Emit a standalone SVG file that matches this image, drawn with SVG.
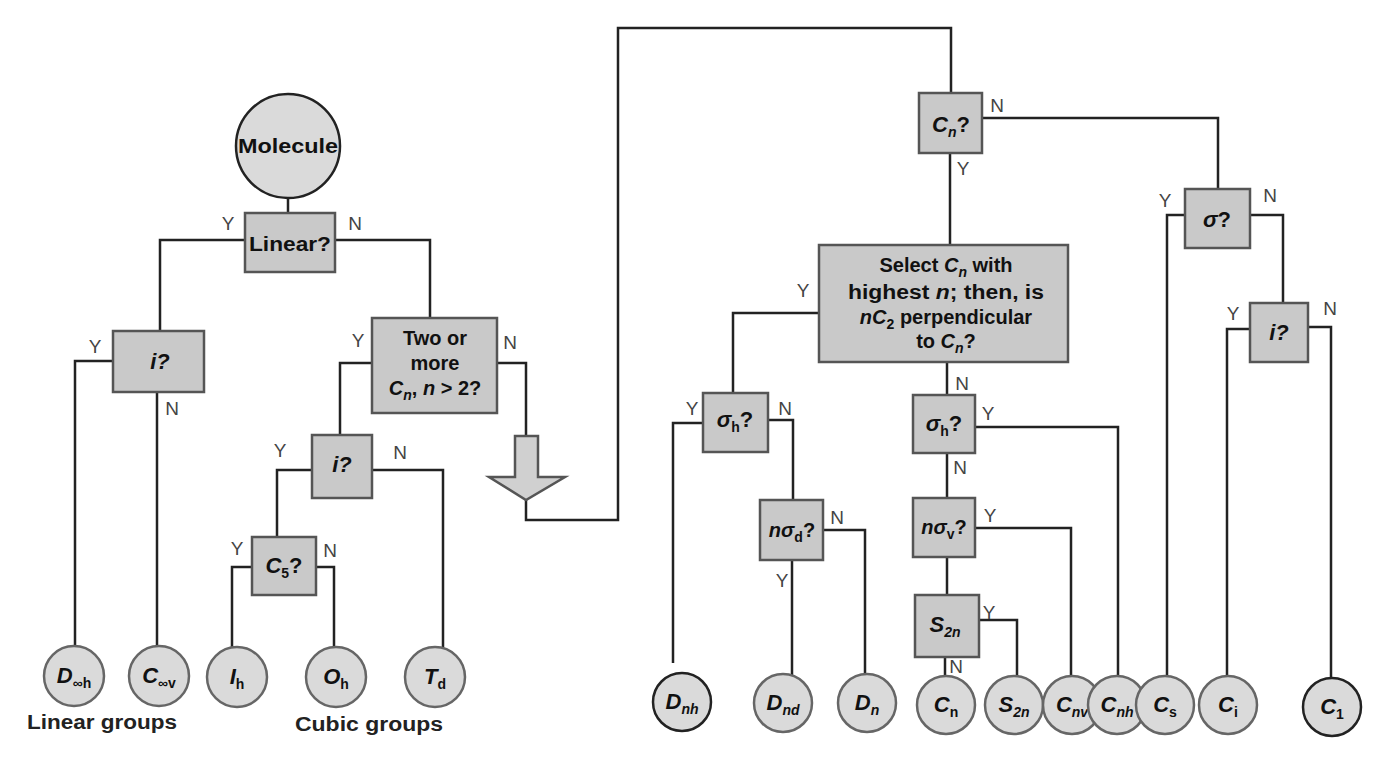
<svg xmlns="http://www.w3.org/2000/svg" width="1382" height="760" viewBox="0 0 1382 760">
<style>
.box{fill:#c9c9c9;stroke:#555;stroke-width:2.5}
.circ{fill:#dadada;stroke:#666;stroke-width:2.5}
.dk{stroke:#222}
.ln{fill:none;stroke:#222;stroke-width:2.5;stroke-linejoin:miter}
.t{font-family:"Liberation Sans",Arial,sans-serif;font-weight:bold;font-size:20px;fill:#111;text-anchor:middle}
.c{font-size:22px}
.it{font-style:italic}
.sub{font-size:14px}
.yn{font-family:"Liberation Sans",Arial,sans-serif;font-size:19px;fill:#444;text-anchor:middle}
.cap{font-family:"Liberation Sans",Arial,sans-serif;font-weight:bold;font-size:20px;fill:#222;text-anchor:middle}
</style>
<rect width="1382" height="760" fill="#fff"/>
<g id="connectors" class="ln">
<path d="M288,198 V213"/>
<path d="M245,240 H160 V331"/>
<path d="M335,240 H430 V318"/>
<path d="M113,361 H75 V648"/>
<path d="M157,392 V648"/>
<path d="M372,363 H340 V435"/>
<path d="M497,363 H526 V436"/>
<path d="M526,500 V520 H618 V28 H951 V93"/>
<path d="M312,470 H277 V537"/>
<path d="M372,470 H443 V650"/>
<path d="M252,567 H232 V650"/>
<path d="M316,567 H334 V650"/>
<path d="M950,153 V245"/>
<path d="M982,118 H1218 V189"/>
<path d="M819,313 H733 V393"/>
<path d="M947,362 V395"/>
<path d="M703,423 H673 V663"/>
<path d="M768,420 H793 V500"/>
<path d="M792,560 V678"/>
<path d="M823,530 H865 V678"/>
<path d="M947,453 V498"/>
<path d="M975,427 H1118 V678"/>
<path d="M947,557 V595"/>
<path d="M975,528 H1071 V678"/>
<path d="M979,620 H1017 V678"/>
<path d="M945,657 V678"/>
<path d="M1185,215 H1167 V678"/>
<path d="M1250,215 H1283 V303"/>
<path d="M1250,329 H1227 V678"/>
<path d="M1308,327 H1331 V680"/>
</g>
<g id="yn-labels">
<text class="yn" x="228" y="230">Y</text><text class="yn" x="355" y="230">N</text>
<text class="yn" x="95" y="353">Y</text><text class="yn" x="172" y="415">N</text>
<text class="yn" x="358" y="347">Y</text><text class="yn" x="510" y="349">N</text>
<text class="yn" x="280" y="457">Y</text><text class="yn" x="400" y="459">N</text>
<text class="yn" x="237" y="555" font-size="16">Y</text><text class="yn" x="330" y="557">N</text>
<text class="yn" x="997" y="112">N</text><text class="yn" x="963" y="175">Y</text>
<text class="yn" x="803" y="297">Y</text><text class="yn" x="962" y="390">N</text>
<text class="yn" x="692" y="415">Y</text><text class="yn" x="785" y="415">N</text>
<text class="yn" x="837" y="524">N</text><text class="yn" x="782" y="587">Y</text>
<text class="yn" x="988" y="420">Y</text><text class="yn" x="960" y="474">N</text>
<text class="yn" x="990" y="522">Y</text>
<text class="yn" x="989" y="619">Y</text><text class="yn" x="956" y="673">N</text>
<text class="yn" x="1165" y="207">Y</text><text class="yn" x="1270" y="202">N</text>
<text class="yn" x="1233" y="320">Y</text><text class="yn" x="1330" y="315">N</text>
</g>
<g id="molecule"><circle class="circ dk" cx="288" cy="146" r="52"/><text class="t" x="288" y="153" font-size="21" textLength="100" lengthAdjust="spacingAndGlyphs">Molecule</text></g>
<g id="linear"><rect class="box" x="245" y="213" width="90" height="59"/><text class="t" x="290" y="251" textLength="82" lengthAdjust="spacingAndGlyphs">Linear?</text></g>
<g id="i-linear"><rect class="box" x="113" y="331" width="91" height="61"/><text class="t it c" x="160" y="369">i?</text></g>
<g id="two-or-more"><rect class="box" x="372" y="318" width="125" height="95"/>
<text class="t" x="435" y="345" font-size="21">Two or</text><text class="t" x="435" y="370" font-size="21">more</text>
<text class="t" x="435" y="395" font-size="22"><tspan class="it">C</tspan><tspan class="it sub" dy="5">n</tspan><tspan dy="-5">, </tspan><tspan class="it">n</tspan> &gt; 2?</text></g>
<g id="arrow"><path d="M515,436 H538 V477 H565 L526,500 L489,477 H515 Z" fill="#d0d0d0" stroke="#555" stroke-width="2.5" stroke-linejoin="miter"/></g>
<g id="i-cubic"><rect class="box" x="312" y="435" width="60" height="63"/><text class="t it c" x="342" y="472">i?</text></g>
<g id="c5"><rect class="box" x="252" y="537" width="64" height="58"/><text class="t c" x="284" y="573"><tspan class="it">C</tspan><tspan class="sub" dy="5">5</tspan><tspan dy="-5">?</tspan></text></g>
<g id="dinfh"><circle class="circ" cx="74" cy="676" r="30"/><text class="t c" x="74" y="683"><tspan class="it">D</tspan><tspan class="sub" dy="5">∞h</tspan></text></g>
<g id="cinfv"><circle class="circ" cx="159" cy="676" r="30"/><text class="t c" x="159" y="683"><tspan class="it">C</tspan><tspan class="sub" dy="5">∞v</tspan></text></g>
<g id="ih"><circle class="circ" cx="237" cy="677" r="30"/><text class="t c" x="237" y="684"><tspan class="it">I</tspan><tspan class="sub" dy="5">h</tspan></text></g>
<g id="oh"><circle class="circ" cx="336" cy="677" r="30"/><text class="t c" x="336" y="684"><tspan class="it">O</tspan><tspan class="sub" dy="5">h</tspan></text></g>
<g id="td"><circle class="circ" cx="435" cy="677" r="30"/><text class="t c" x="435" y="684"><tspan class="it">T</tspan><tspan class="sub" dy="5">d</tspan></text></g>
<text class="cap" x="102" y="729" textLength="150" lengthAdjust="spacingAndGlyphs">Linear groups</text>
<text class="cap" x="369" y="731" textLength="148" lengthAdjust="spacingAndGlyphs">Cubic groups</text>
<g id="cn-q"><rect class="box" x="919" y="93" width="63" height="60"/><text class="t c" x="951" y="132"><tspan class="it">C</tspan><tspan class="it sub" dy="5">n</tspan><tspan dy="-5">?</tspan></text></g>
<g id="select"><rect class="box" x="819" y="245" width="249" height="117"/>
<text class="t" x="946" y="272" font-size="21"><tspan>Select </tspan><tspan class="it">C</tspan><tspan class="it sub" dy="5">n</tspan><tspan dy="-5"> with</tspan></text>
<text class="t" x="946" y="299" font-size="21" textLength="196" lengthAdjust="spacingAndGlyphs">highest <tspan class="it">n</tspan>; then, is</text>
<text class="t" x="946" y="324" font-size="21"><tspan class="it">n</tspan><tspan class="it">C</tspan><tspan class="sub" dy="5">2</tspan><tspan dy="-5"> perpendicular</tspan></text>
<text class="t" x="946" y="348" font-size="21">to <tspan class="it">C</tspan><tspan class="it sub" dy="5">n</tspan><tspan dy="-5">?</tspan></text></g>
<g id="sigmah-l"><rect class="box" x="703" y="393" width="65" height="59"/><text class="t c" x="735" y="427"><tspan class="it">σ</tspan><tspan class="sub" dy="5">h</tspan><tspan dy="-5">?</tspan></text></g>
<g id="nsigmad"><rect class="box" x="760" y="500" width="63" height="60"/><text class="t" x="792" y="537"><tspan class="it">nσ</tspan><tspan class="sub" dy="5">d</tspan><tspan dy="-5">?</tspan></text></g>
<g id="sigmah-r"><rect class="box" x="913" y="395" width="62" height="58"/><text class="t c" x="944" y="431"><tspan class="it">σ</tspan><tspan class="sub" dy="5">h</tspan><tspan dy="-5">?</tspan></text></g>
<g id="nsigmav"><rect class="box" x="913" y="498" width="62" height="59"/><text class="t" x="944" y="534"><tspan class="it">nσ</tspan><tspan class="sub" dy="5">v</tspan><tspan dy="-5">?</tspan></text></g>
<g id="s2n-q"><rect class="box" x="915" y="595" width="64" height="62"/><text class="t c" x="945" y="632"><tspan class="it">S</tspan><tspan class="it sub" dy="5">2n</tspan></text></g>
<g id="sigma-q"><rect class="box" x="1185" y="189" width="65" height="59"/><text class="t c" x="1217" y="227"><tspan class="it">σ</tspan>?</text></g>
<g id="i-q"><rect class="box" x="1250" y="303" width="58" height="59"/><text class="t it c" x="1279" y="340">i?</text></g>
<g id="dnh"><circle class="circ dk" cx="682" cy="702" r="29"/><text class="t c" x="682" y="709"><tspan class="it">D</tspan><tspan class="it sub" dy="5">nh</tspan></text></g>
<g id="dnd"><circle class="circ" cx="783" cy="703" r="29"/><text class="t c" x="783" y="710"><tspan class="it">D</tspan><tspan class="it sub" dy="5">nd</tspan></text></g>
<g id="dn"><circle class="circ" cx="867" cy="703" r="29"/><text class="t c" x="867" y="710"><tspan class="it">D</tspan><tspan class="it sub" dy="5">n</tspan></text></g>
<g id="cn"><circle class="circ" cx="946" cy="705" r="29"/><text class="t c" x="946" y="712"><tspan class="it">C</tspan><tspan class="sub" dy="5">n</tspan></text></g>
<g id="s2n"><circle class="circ" cx="1014" cy="705" r="29"/><text class="t c" x="1014" y="712"><tspan class="it">S</tspan><tspan class="it sub" dy="5">2n</tspan></text></g>
<g id="cnv"><circle class="circ" cx="1072" cy="705" r="29"/><text class="t c" x="1072" y="712"><tspan class="it">C</tspan><tspan class="it sub" dy="5">nv</tspan></text></g>
<g id="cnh"><circle class="circ" cx="1117" cy="705" r="29"/><text class="t c" x="1117" y="712"><tspan class="it">C</tspan><tspan class="it sub" dy="5">nh</tspan></text></g>
<g id="cs"><circle class="circ" cx="1165" cy="705" r="29"/><text class="t c" x="1165" y="712"><tspan class="it">C</tspan><tspan class="sub" dy="5">s</tspan></text></g>
<g id="ci"><circle class="circ" cx="1228" cy="705" r="29"/><text class="t c" x="1228" y="712"><tspan class="it">C</tspan><tspan class="sub" dy="5">i</tspan></text></g>
<g id="c1"><circle class="circ dk" cx="1332" cy="707" r="29"/><text class="t c" x="1332" y="714"><tspan class="it">C</tspan><tspan class="sub" dy="5">1</tspan></text></g>
</svg>
